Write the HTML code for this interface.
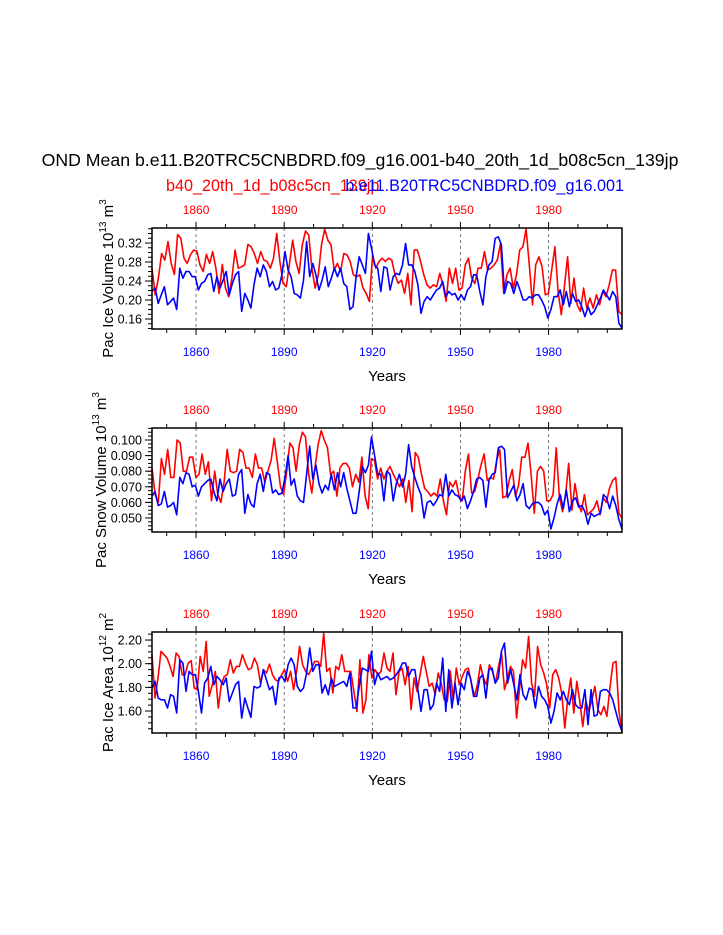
<!DOCTYPE html>
<html><head><meta charset="utf-8"><style>
body{margin:0;background:#fff;}
svg{display:block;font-family:"Liberation Sans",sans-serif;}
</style></head><body>
<svg id="chart" width="723" height="935" viewBox="0 0 723 935">
<text x="360" y="166" font-size="17.7" text-anchor="middle">OND Mean b.e11.B20TRC5CNBDRD.f09_g16.001-b40_20th_1d_b08c5cn_139jp</text>
<text x="166" y="191" font-size="16.2" fill="#f00">b40_20th_1d_b08c5cn_139jp</text>
<text x="624" y="191" font-size="16.2" fill="#00f" text-anchor="end">b.e11.B20TRC5CNBDRD.f09_g16.001</text>
</svg>
<script>
const xStartYear = 1845, xEndYear = 2005;
const decadeLabels = [1860, 1890, 1920, 1950, 1980];

const iceVolRedA = [0.267,0.211,0.246,0.298,0.284,0.323,0.277,0.254,0.338,0.330,0.288,0.277,0.295,0.305,0.303,0.274,0.260,0.296,0.277,0.302,0.267,0.214,0.275,0.225,0.207,0.246,0.305,0.267,0.270,0.274,0.317,0.312,0.298,0.277,0.302,0.284,0.281,0.267,0.288,0.340,0.281,0.235,0.228,0.277,0.326,0.281,0.256,0.316,0.345,0.337,0.267,0.225,0.253,0.316,0.349,0.326,0.316,0.263,0.277,0.260,0.298,0.295,0.281,0.253,0.249,0.253,0.225,0.214,0.197,0.295,0.267,0.281,0.288,0.281];
const iceVolRedB = [0.288,0.284,0.253,0.235,0.242,0.214,0.256,0.190,0.305,0.305,0.281,0.253,0.232,0.225,0.232,0.228,0.256,0.232,0.197,0.267,0.235,0.267,0.221,0.225,0.274,0.288,0.246,0.235,0.267,0.267,0.302,0.263,0.267,0.274,0.284,0.319,0.214,0.253,0.267,0.225,0.253,0.305,0.312,0.349,0.274,0.190,0.274,0.291,0.270,0.211,0.214,0.263,0.312,0.218,0.169,0.228,0.291,0.193,0.246,0.190,0.176,0.225,0.183,0.204,0.183,0.211,0.190,0.218,0.207,0.232,0.263,0.263,0.176,0.169];
const iceVolBlueA = [0.218,0.225,0.193,0.211,0.228,0.190,0.197,0.204,0.180,0.267,0.246,0.260,0.260,0.249,0.249,0.221,0.235,0.239,0.253,0.256,0.218,0.249,0.225,0.242,0.260,0.211,0.235,0.253,0.260,0.176,0.214,0.200,0.183,0.232,0.267,0.249,0.274,0.260,0.228,0.239,0.221,0.225,0.253,0.302,0.263,0.249,0.214,0.211,0.204,0.242,0.323,0.249,0.277,0.253,0.221,0.242,0.270,0.228,0.246,0.267,0.249,0.267,0.235,0.228,0.180,0.186,0.249,0.291,0.274,0.256,0.340,0.309,0.274,0.267,0.218];
const iceVolBlueB = [0.270,0.267,0.221,0.249,0.256,0.253,0.274,0.319,0.274,0.274,0.260,0.232,0.172,0.197,0.207,0.200,0.211,0.221,0.225,0.239,0.207,0.218,0.211,0.214,0.200,0.211,0.200,0.221,0.228,0.253,0.253,0.218,0.190,0.249,0.274,0.281,0.330,0.333,0.316,0.214,0.239,0.235,0.214,0.239,0.221,0.200,0.200,0.207,0.204,0.211,0.211,0.200,0.186,0.162,0.180,0.207,0.207,0.221,0.190,0.218,0.186,0.214,0.197,0.200,0.186,0.165,0.186,0.169,0.176,0.190,0.204,0.221,0.211,0.200,0.218,0.207,0.151,0.141];

const snowRedA = [0.082,0.065,0.060,0.088,0.078,0.094,0.076,0.076,0.100,0.098,0.080,0.080,0.089,0.089,0.076,0.078,0.091,0.078,0.086,0.061,0.080,0.065,0.060,0.073,0.094,0.080,0.079,0.080,0.094,0.092,0.082,0.082,0.076,0.091,0.082,0.082,0.073,0.080,0.087,0.101,0.086,0.070,0.065,0.080,0.098,0.095,0.080,0.097,0.105,0.102,0.078,0.066,0.082,0.097,0.106,0.100,0.095,0.078,0.080,0.064,0.082,0.085,0.085,0.082,0.070,0.078,0.073,0.089,0.064,0.056,0.088,0.087,0.075,0.082,0.075];
const snowRedB = [0.080,0.083,0.078,0.074,0.070,0.075,0.060,0.074,0.054,0.092,0.089,0.078,0.069,0.067,0.064,0.066,0.064,0.075,0.061,0.052,0.073,0.070,0.074,0.064,0.061,0.080,0.091,0.066,0.067,0.075,0.084,0.091,0.074,0.076,0.075,0.087,0.094,0.063,0.064,0.074,0.081,0.064,0.071,0.089,0.089,0.098,0.078,0.053,0.080,0.083,0.080,0.061,0.061,0.065,0.095,0.064,0.054,0.065,0.085,0.055,0.072,0.060,0.054,0.065,0.052,0.054,0.056,0.061,0.052,0.063,0.060,0.069,0.074,0.076,0.053,0.050];
const snowBlueA = [0.064,0.067,0.058,0.059,0.067,0.057,0.058,0.060,0.052,0.076,0.072,0.079,0.078,0.070,0.071,0.064,0.070,0.072,0.074,0.075,0.067,0.061,0.075,0.067,0.072,0.075,0.064,0.065,0.078,0.081,0.053,0.065,0.059,0.057,0.072,0.078,0.067,0.079,0.078,0.066,0.068,0.065,0.066,0.076,0.090,0.071,0.075,0.064,0.061,0.060,0.078,0.096,0.075,0.084,0.072,0.066,0.071,0.068,0.078,0.068,0.079,0.070,0.079,0.069,0.061,0.053,0.053,0.067,0.083,0.079,0.084,0.102,0.090,0.078,0.078,0.061];
const snowBlueB = [0.080,0.078,0.061,0.072,0.078,0.070,0.078,0.097,0.083,0.076,0.070,0.065,0.050,0.060,0.061,0.058,0.061,0.065,0.064,0.078,0.064,0.068,0.065,0.064,0.061,0.064,0.056,0.061,0.067,0.075,0.076,0.074,0.057,0.074,0.078,0.079,0.095,0.096,0.094,0.063,0.067,0.071,0.061,0.065,0.072,0.058,0.056,0.059,0.060,0.060,0.058,0.052,0.055,0.043,0.050,0.059,0.065,0.056,0.068,0.054,0.061,0.063,0.057,0.058,0.054,0.046,0.053,0.051,0.052,0.053,0.065,0.063,0.056,0.064,0.058,0.049,0.043];

const areaRedA = [2.076,1.709,1.878,2.104,2.076,2.047,1.977,1.893,2.090,2.062,1.907,1.907,2.005,2.025,1.794,1.780,2.062,1.935,2.188,1.724,1.822,1.935,1.625,1.822,1.893,1.907,2.033,1.921,1.977,1.977,2.076,2.005,1.949,1.963,2.047,1.991,1.836,1.949,1.921,1.997,1.907,1.864,1.850,1.907,1.949,1.850,1.935,1.780,1.935,2.146,1.991,1.935,1.907,1.963,2.019,2.019,1.977,2.259,1.935,1.963,1.752,1.977,1.949,2.076,1.935,1.935,1.935,1.766,1.597,2.033,1.583,1.695,2.076,1.878,1.949,1.907,1.935,2.090];
const areaRedB = [1.963,1.935,2.090,1.738,1.935,1.963,1.822,1.977,1.611,1.878,1.766,1.907,2.062,1.935,1.808,1.836,1.738,1.921,1.836,1.695,1.681,1.935,1.695,1.963,1.822,1.893,1.949,1.963,1.836,1.724,1.822,1.991,1.878,1.822,1.991,1.935,1.836,1.977,2.090,1.780,1.878,1.977,1.935,1.540,1.794,2.033,1.963,2.231,1.836,1.724,2.146,1.991,1.921,1.822,1.625,1.907,1.949,1.878,1.752,1.456,1.709,1.878,1.583,1.850,1.681,1.470,1.681,1.597,1.695,1.808,1.611,1.569,1.639,1.555,1.794,2.005,2.019,1.597,1.414];
const areaBlueA = [1.794,1.850,1.709,1.695,1.695,1.625,1.738,1.724,1.583,2.033,2.005,1.766,1.935,1.907,1.907,1.766,1.583,1.836,1.878,1.977,1.822,1.893,1.864,1.822,1.878,1.681,1.752,1.822,1.850,1.540,1.709,1.625,1.546,1.808,1.794,1.808,1.949,1.864,1.780,1.808,1.653,1.878,1.893,1.850,1.991,2.047,1.991,1.808,1.766,1.794,1.921,2.132,1.935,1.991,1.991,1.752,1.822,1.738,1.878,1.808,1.822,1.836,1.850,1.808,1.921,1.625,1.625,1.808,1.963,1.949,1.935,2.104,1.822,1.921,1.864,1.878];
const areaBlueB = [1.893,1.864,1.878,1.907,1.949,2.005,2.005,1.893,1.949,1.949,1.780,1.597,1.780,1.780,1.611,1.653,1.836,1.766,2.047,1.597,1.949,1.625,1.836,1.653,1.836,1.780,1.935,1.878,1.724,1.724,1.878,1.907,1.709,1.949,1.963,1.836,1.878,2.104,2.174,1.836,1.949,1.822,1.695,1.907,1.738,1.695,1.794,1.780,1.625,1.808,1.724,1.695,1.639,1.498,1.597,1.752,1.695,1.766,1.695,1.653,1.780,1.653,1.625,1.625,1.780,1.484,1.780,1.555,1.569,1.766,1.780,1.780,1.752,1.695,1.597,1.498,1.428];

const iceVolTicks = [0.32, 0.28, 0.24, 0.20, 0.16];
const snowTicks = [0.100, 0.090, 0.080, 0.070, 0.060, 0.050];
const areaTicks = [2.20, 2.00, 1.80, 1.60];

const NS = "http://www.w3.org/2000/svg";
const svg = document.getElementById("chart");
const X0 = 152, X1 = 622;
function xScale(yr){ return X0 + (yr - xStartYear) / (xEndYear - xStartYear) * (X1 - X0); }
function mk(tag, attrs, parent){
  const e = document.createElementNS(NS, tag);
  for (const k in attrs) e.setAttribute(k, attrs[k]);
  (parent || svg).appendChild(e);
  return e;
}
function drawSeries(g, vals, yScale, color, name){
  const n = vals.length;
  let d = "";
  vals.forEach((v, i) => {
    const yr = xStartYear + i * (xEndYear - xStartYear) / (n - 1);
    d += (i ? "L" : "M") + xScale(yr).toFixed(1) + "," + yScale(v).toFixed(1);
  });
  const p = mk("path", {d: d, fill: "none", stroke: color, "stroke-width": 1.6, "stroke-linejoin": "round"}, g);
  
  
}
function panel(opts){
  const {top, bottom, vTop, vBot, ticks, minor, fmt, redVals, blueVals, title, sup, unitSup, key, titleX} = opts;
  const g = mk("g", {});
  
  
  const yScale = v => top + (vTop - v) / (vTop - vBot) * (bottom - top);
  decadeLabels.forEach(yr => {
    const l = mk("line", {x1: xScale(yr), x2: xScale(yr), y1: top, y2: bottom, stroke: "#555", "stroke-width": 0.8, "stroke-dasharray": "3,3"}, g);
    
    
  });
  drawSeries(g, redVals, yScale, "#f00", key + '-red-series');
  drawSeries(g, blueVals, yScale, "#00f", key + '-blue-series');
  const fr = mk("rect", {x: X0, y: top, width: X1 - X0, height: bottom - top, fill: "none", stroke: "#000", "stroke-width": 1.5}, g);
  
  
  for (let yr = 1850; yr <= 2000; yr += 10){
    const x = xScale(yr);
    const big = decadeLabels.includes(yr);
    const len = big ? 6 : 4;
    mk("line", {x1: x, x2: x, y1: bottom, y2: bottom + len, stroke: "#000", "stroke-width": 1}, g);
    mk("line", {x1: x, x2: x, y1: top, y2: top - len, stroke: "#000", "stroke-width": 1}, g);
  }
  decadeLabels.forEach(yr => {
    const t1 = mk("text", {x: xScale(yr), y: top - 14, "font-size": 12, fill: "#f00", "text-anchor": "middle"}, g);
    t1.textContent = yr;
    
    
    const t2 = mk("text", {x: xScale(yr), y: bottom + 27, "font-size": 12, fill: "#00f", "text-anchor": "middle"}, g);
    t2.textContent = yr;
    
    
  });
  for (let v = vBot; v <= vTop + 1e-9; v += minor){
    const vv = Math.ceil(v / minor - 1e-6) * minor;
    if (vv < vBot || vv > vTop) continue;
    mk("line", {x1: X0, x2: X0 - 4, y1: yScale(vv), y2: yScale(vv), stroke: "#000", "stroke-width": 1}, g);
  }
  ticks.forEach(v => {
    mk("line", {x1: X0, x2: X0 - 7, y1: yScale(v), y2: yScale(v), stroke: "#000", "stroke-width": 1}, g);
    const t = mk("text", {x: X0 - 10, y: yScale(v) + 4.5, "font-size": 12.5, "text-anchor": "end"}, g);
    t.textContent = v.toFixed(fmt);
    
    
  });
  const xt = mk("text", {x: (X0 + X1) / 2, y: bottom + 52, "font-size": 15, "text-anchor": "middle"}, g);
  xt.textContent = "Years";
  
  
  const cy = (top + bottom) / 2;
  const yt = mk("text", {x: 0, y: 0, "font-size": 15, "text-anchor": "middle", transform: "translate(" + titleX + "," + cy + ") rotate(-90)"}, g);
  
  
  const s1 = mk("tspan", {}, yt); s1.textContent = title + " 10";
  const s2 = mk("tspan", {"font-size": 10, dy: -7}, yt); s2.textContent = sup;
  const s3 = mk("tspan", {dy: 7}, yt); s3.textContent = " m";
  const s4 = mk("tspan", {"font-size": 10, dy: -7}, yt); s4.textContent = unitSup;
}
panel({key: 'ice-volume', titleX: 113, top: 228, bottom: 329, vTop: 0.3516, vBot: 0.139, ticks: iceVolTicks, minor: 0.01, fmt: 2,
  redVals: iceVolRedA.concat(iceVolRedB), blueVals: iceVolBlueA.concat(iceVolBlueB), title: "Pac Ice Volume", sup: "13", unitSup: "3"});
panel({key: 'snow-volume', titleX: 106, top: 428, bottom: 532, vTop: 0.1077, vBot: 0.041, ticks: snowTicks, minor: 0.0025, fmt: 3,
  redVals: snowRedA.concat(snowRedB), blueVals: snowBlueA.concat(snowBlueB), title: "Pac Snow Volume", sup: "13", unitSup: "3"});
panel({key: 'area', titleX: 113, top: 632, bottom: 733, vTop: 2.268, vBot: 1.414, ticks: areaTicks, minor: 0.05, fmt: 2,
  redVals: areaRedA.concat(areaRedB), blueVals: areaBlueA.concat(areaBlueB), title: "Pac Ice Area", sup: "12", unitSup: "2"});
</script>
</body></html>
